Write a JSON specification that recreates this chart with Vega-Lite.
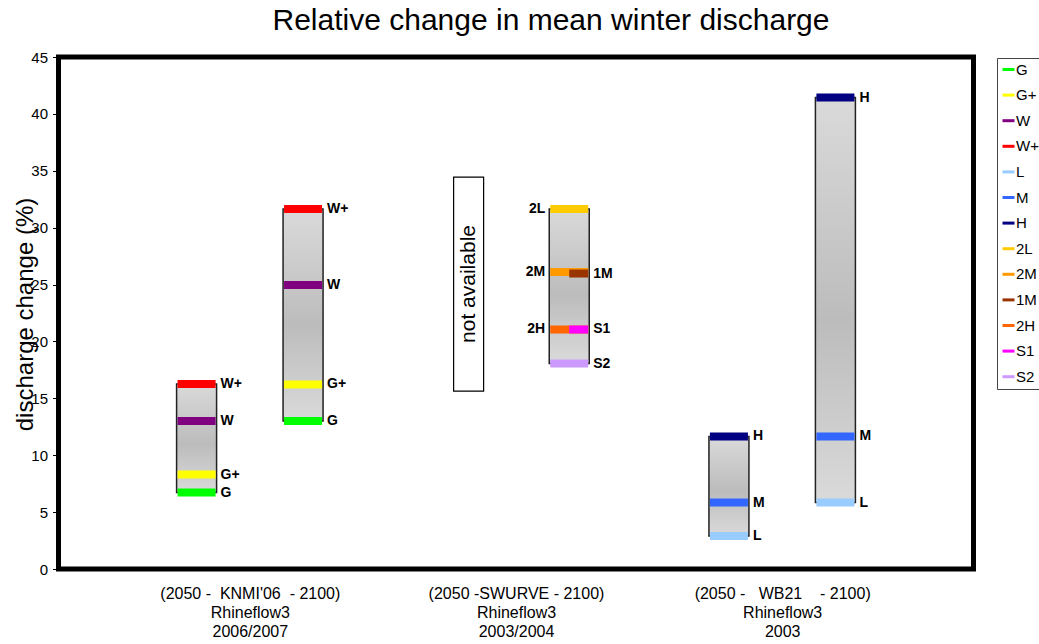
{
  "$schema": "https://vega.github.io/schema/vega-lite/v6.json",
  "width": 915,
  "height": 512,
  "autosize": "none",
  "padding": {"left": 58.5, "top": 57, "right": 65.5, "bottom": 75},
  "background": "white",
  "title": {
    "text": "Relative change in mean winter discharge",
    "fontSize": 30,
    "fontWeight": "normal",
    "font": "Liberation Sans",
    "color": "black",
    "anchor": "middle",
    "frame": "group",
    "dx": 35,
    "dy": 34,
    "baseline": "alphabetic",
    "offset": 24
  },
  "config": {
    "font": "Liberation Sans",
    "view": {"stroke": "black", "strokeWidth": 5},
    "axis": {"grid": false, "domain": false, "labelColor": "black", "titleColor": "black"}
  },
  "datasets": {
    "bars": [
      {"bar": "KNMI 2050", "xc": -0.2, "lo": 6.72, "hi": 16.26},
      {"bar": "KNMI 2100", "xc": 0.2, "lo": 13.0, "hi": 31.64},
      {"bar": "SWURVE 2100", "xc": 1.2, "lo": 18.06, "hi": 31.64},
      {"bar": "WB21 2050", "xc": 1.8, "lo": 2.9, "hi": 11.65},
      {"bar": "WB21 2100", "xc": 2.2, "lo": 5.84, "hi": 41.44}
    ],
    "na": [
      {"xc": 0.822, "lo": 15.64, "hi": 34.45, "mid": 25.05, "label": "not available"}
    ],
    "markers": [
      {"series": "W+", "xc": -0.2, "v": 16.26, "part": "full"},
      {"series": "W", "xc": -0.2, "v": 13.0, "part": "full"},
      {"series": "G+", "xc": -0.2, "v": 8.3, "part": "full"},
      {"series": "G", "xc": -0.2, "v": 6.72, "part": "full"},
      {"series": "W+", "xc": 0.2, "v": 31.64, "part": "full"},
      {"series": "W", "xc": 0.2, "v": 24.96, "part": "full"},
      {"series": "G+", "xc": 0.2, "v": 16.22, "part": "full"},
      {"series": "G", "xc": 0.2, "v": 13.0, "part": "full"},
      {"series": "2L", "xc": 1.2, "v": 31.64, "part": "full"},
      {"series": "2M", "xc": 1.2, "v": 26.1, "part": "full"},
      {"series": "1M", "xc": 1.2, "v": 25.97, "part": "right"},
      {"series": "2H", "xc": 1.2, "v": 21.05, "part": "full"},
      {"series": "S1", "xc": 1.2, "v": 21.05, "part": "right"},
      {"series": "S2", "xc": 1.2, "v": 18.06, "part": "full"},
      {"series": "H", "xc": 1.8, "v": 11.65, "part": "full"},
      {"series": "M", "xc": 1.8, "v": 5.84, "part": "full"},
      {"series": "L", "xc": 1.8, "v": 2.9, "part": "full"},
      {"series": "H", "xc": 2.2, "v": 41.44, "part": "full"},
      {"series": "M", "xc": 2.2, "v": 11.65, "part": "full"},
      {"series": "L", "xc": 2.2, "v": 5.84, "part": "full"}
    ]
  },
  "layer": [
    {
      "data": {"name": "bars"},
      "mark": {
        "type": "bar",
        "width": 40,
        "stroke": "#222",
        "strokeWidth": 1.5,
        "fill": {
          "gradient": "linear",
          "x1": 0, "y1": 0, "x2": 0, "y2": 1,
          "stops": [
            {"offset": 0, "color": "#dadada"},
            {"offset": 0.55, "color": "#bcbcbc"},
            {"offset": 1, "color": "#dadada"}
          ]
        }
      },
      "encoding": {
        "x": {
          "field": "xc", "type": "quantitative",
          "scale": {"domain": [-0.7, 2.7], "nice": false, "zero": false},
          "axis": {
            "title": null,
            "values": [0, 1, 2],
            "ticks": false,
            "labelFontSize": 16,
            "labelLineHeight": 19,
            "labelPadding": 16,
            "labelLimit": 500,
            "labelOverlap": false,
            "labelBound": false,
            "labelFlush": false,
            "labelExpr": "datum.value == 0 ? [\"(2050 -\u00a0\u00a0KNMI'06\u00a0\u00a0- 2100)\", 'Rhineflow3', '2006/2007'] : datum.value == 1 ? ['(2050 -SWURVE - 2100)', 'Rhineflow3', '2003/2004'] : ['(2050 -\u00a0\u00a0\u00a0WB21\u00a0\u00a0\u00a0\u00a0- 2100)', 'Rhineflow3', '2003']"
          }
        },
        "y": {
          "field": "lo", "type": "quantitative",
          "scale": {"domain": [0, 45], "nice": false, "zero": false},
          "axis": {
            "title": "discharge change (%)",
            "values": [0, 5, 10, 15, 20, 25, 30, 35, 40, 45],
            "labelFontSize": 15,
            "labelPadding": 5,
            "tickSize": 6,
            "tickColor": "black",
            "tickWidth": 1,
            "titleFontSize": 24,
            "titleFontWeight": "normal",
            "titleX": -33,
            "titleY": 257,
            "titleAngle": -90,
            "titleBaseline": "middle",
            "titleAlign": "center"
          }
        },
        "y2": {"field": "hi"}
      }
    },
    {
      "data": {"name": "na"},
      "mark": {"type": "bar", "width": 30, "fill": "white", "stroke": "black", "strokeWidth": 1.2},
      "encoding": {
        "x": {"field": "xc", "type": "quantitative"},
        "y": {"field": "lo", "type": "quantitative"},
        "y2": {"field": "hi"}
      }
    },
    {
      "data": {"name": "na"},
      "mark": {"type": "text", "angle": 270, "fontSize": 21, "align": "center", "baseline": "middle", "color": "black"},
      "encoding": {
        "x": {"field": "xc", "type": "quantitative"},
        "y": {"field": "mid", "type": "quantitative"},
        "text": {"field": "label"}
      }
    },
    {
      "data": {"name": "markers"},
      "transform": [{"filter": "datum.part == 'full'"}],
      "mark": {"type": "tick", "orient": "horizontal", "size": 38, "thickness": 8, "opacity": 1},
      "encoding": {
        "x": {"field": "xc", "type": "quantitative"},
        "y": {"field": "v", "type": "quantitative"},
        "color": {
          "field": "series", "type": "nominal",
          "scale": {
            "domain": ["G", "G+", "W", "W+", "L", "M", "H", "2L", "2M", "1M", "2H", "S1", "S2"],
            "range": ["#00ff00", "#ffff00", "#800080", "#ff0000", "#99ccff", "#3366ff", "#000080", "#ffcc00", "#ff9900", "#993300", "#ff6600", "#ff00ff", "#cc99ff"]
          },
          "legend": {
            "orient": "none",
            "legendX": 938.5,
            "legendY": 1,
            "title": null,
            "strokeColor": "#444",
            "fillColor": "white",
            "padding": 4,
            "symbolType": "M-1,-0.25H1V0.25H-1Z",
            "symbolSize": 144,
            "symbolStrokeWidth": 0,
            "labelFontSize": 15,
            "labelColor": "black",
            "labelOffset": 0,
            "rowPadding": 9.6
          }
        }
      }
    },
    {
      "data": {"name": "markers"},
      "transform": [{"filter": "datum.part == 'right'"}],
      "mark": {"type": "tick", "orient": "horizontal", "size": 19, "thickness": 8, "xOffset": 9.5, "opacity": 1},
      "encoding": {
        "x": {"field": "xc", "type": "quantitative"},
        "y": {"field": "v", "type": "quantitative"},
        "color": {"field": "series", "type": "nominal"}
      }
    },
    {
      "data": {"name": "markers"},
      "transform": [{"filter": "indexof(['2L', '2M', '2H'], datum.series) < 0"}],
      "mark": {"type": "text", "align": "left", "baseline": "middle", "dx": 24, "fontSize": 14, "fontWeight": "bold", "color": "black"},
      "encoding": {
        "x": {"field": "xc", "type": "quantitative"},
        "y": {"field": "v", "type": "quantitative"},
        "text": {"field": "series"}
      }
    },
    {
      "data": {"name": "markers"},
      "transform": [{"filter": "indexof(['2L', '2M', '2H'], datum.series) >= 0"}],
      "mark": {"type": "text", "align": "right", "baseline": "middle", "dx": -24, "fontSize": 14, "fontWeight": "bold", "color": "black"},
      "encoding": {
        "x": {"field": "xc", "type": "quantitative"},
        "y": {"field": "v", "type": "quantitative"},
        "text": {"field": "series"}
      }
    }
  ]
}
